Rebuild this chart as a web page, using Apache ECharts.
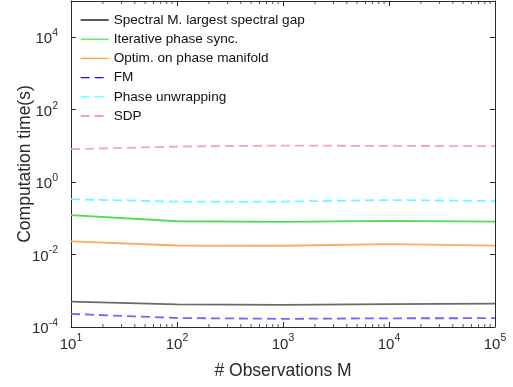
<!DOCTYPE html>
<html><head><meta charset="utf-8">
<script src="https://cdn.jsdelivr.net/npm/echarts@6/dist/echarts.min.js"></script>
<style>html,body{margin:0;padding:0;background:#fff}#c{width:513px;height:387px}#err{position:absolute;left:200px;top:5px;font:10px sans-serif;color:red;width:300px}</style>
</head><body><div id="c"></div><div id="err"></div>
<script>
window.onerror = function (m) { document.getElementById('err').textContent += m + ' | '; };
const xValues = [10, 100, 1000, 10000, 100000];
const seriesNames = ['Spectral M. largest spectral gap', 'Iterative phase sync.', 'Optim. on phase manifold', 'FM', 'Phase unwrapping', 'SDP'];
const spectral = [5.0e-4, 4.2e-4, 4.1e-4, 4.3e-4, 4.4e-4];
const iterative = [0.122, 0.083, 0.080, 0.085, 0.081];
const optim = [0.023, 0.0178, 0.0175, 0.0193, 0.0176];
const fm = [2.3e-4, 1.77e-4, 1.68e-4, 1.74e-4, 1.75e-4];
const unwrap = [0.337, 0.29, 0.29, 0.32, 0.30];
const sdp = [8.1, 9.6, 10.2, 10.0, 9.8];
const xMinorTicks = [20,30,40,50,60,70,80,90,200,300,400,500,600,700,800,900,2000,3000,4000,5000,6000,7000,8000,9000,20000,30000,40000,50000,60000,70000,80000,90000];

const plotColors = ['#6a6a6a', '#4ce04c', '#ffaa5c', '#6a6aff', '#70fafa', '#f2a8a8'];
const legendColors = ['#000000', '#44ee44', '#ffa040', '#1111ee', '#55ffff', '#ee8888'];
const dashed = [false, false, false, true, true, true];
const allData = [spectral, iterative, optim, fm, unwrap, sdp];
const AX = '#2a2a2a';

function supLabel(v) {
  const e = Math.round(Math.log10(v));
  return '{b|10}{s|' + e + '}';
}
const rich = {
  b: {fontSize: 15, color: AX, fontFamily: 'Liberation Sans', verticalAlign: 'bottom', lineHeight: 19},
  s: {fontSize: 10.5, color: AX, fontFamily: 'Liberation Sans', verticalAlign: 'top', lineHeight: 19}
};

const series = allData.map((d, i) => ({
  name: seriesNames[i],
  type: 'line',
  xAxisIndex: 0, yAxisIndex: 0,
  data: xValues.map((x, k) => [x, d[k]]),
  showSymbol: false, symbol: 'none',
  lineStyle: {color: plotColors[i], width: 1.8, type: dashed[i] ? [9, 5] : 'solid'},
  itemStyle: {color: plotColors[i]},
  z: 3
}));

// minor ticks at bottom (inside) and top (inside)
series.push({
  type: 'scatter', name: 'minorBottom', silent: true, clip: false,
  data: xMinorTicks.map(x => [x, 1e-4]),
  symbol: 'rect', symbolSize: [1, 3], symbolOffset: [0, -1.5],
  itemStyle: {color: AX}, z: 5
});
series.push({
  type: 'scatter', name: 'minorTop', silent: true, clip: false,
  data: xMinorTicks.map(x => [x, 1e5]),
  symbol: 'rect', symbolSize: [1, 3], symbolOffset: [0, 1.5],
  itemStyle: {color: AX}, z: 5
});

const option = {
  animation: false,
  backgroundColor: '#fff',
  grid: {left: 71, right: 18, top: 1, bottom: 60, containLabel: false, outerBoundsMode: 'none', show: false},
  legend: {
    show: true,
    orient: 'vertical', left: 80, top: 13, padding: 0,
    itemWidth: 28, itemHeight: 12, itemGap: 5.2,
    textStyle: {fontSize: 13.6, color: '#111', fontFamily: 'Liberation Sans'},
    itemStyle: {opacity: 0},
    lineStyle: {width: 1.3, opacity: 1},
    data: seriesNames.map((n, i) => ({name: n, itemStyle: {opacity: 0}, lineStyle: {color: legendColors[i], width: 1.3, opacity: 1}}))
  },
  xAxis: [{
    type: 'log', min: 10, max: 100000, interval: 1, logBase: 10,
    name: '# Observations M', nameLocation: 'middle', nameGap: 35, nameMoveOverlap: false,
    nameTextStyle: {fontSize: 17.5, color: AX, fontFamily: 'Liberation Sans'},
    axisLine: {show: true, onZero: false, lineStyle: {color: AX, width: 1}},
    axisTick: {show: true, inside: true, length: 5, lineStyle: {color: AX}},
    axisLabel: {formatter: supLabel, rich: rich, margin: 6},
    splitLine: {show: false}
  }, {
    type: 'log', min: 10, max: 100000, interval: 1, logBase: 10, position: 'top',
    axisLine: {show: true, onZero: false, lineStyle: {color: AX, width: 1}},
    axisTick: {show: true, inside: true, length: 5, lineStyle: {color: AX}},
    axisLabel: {show: false}, splitLine: {show: false}
  }],
  yAxis: [{
    type: 'log', min: 1e-4, max: 1e5, interval: 2, logBase: 10,
    name: 'Computation time(s)', nameLocation: 'middle', nameGap: 37, nameMoveOverlap: false,
    nameTextStyle: {fontSize: 17.5, color: AX, fontFamily: 'Liberation Sans'},
    axisLine: {show: true, onZero: false, lineStyle: {color: AX, width: 1}},
    axisTick: {show: true, inside: true, length: 5, lineStyle: {color: AX}},
    axisLabel: {formatter: function (v) { const e = Math.round(Math.log10(v)); return (e % 2 === 0 && e < 5) ? supLabel(v) : ''; }, rich: rich, margin: 13},
    splitLine: {show: false}
  }, {
    type: 'log', min: 1e-4, max: 1e5, interval: 2, logBase: 10, position: 'right',
    axisLine: {show: true, onZero: false, lineStyle: {color: AX, width: 1}},
    axisTick: {show: true, inside: true, length: 5, lineStyle: {color: AX}},
    axisLabel: {show: false}, splitLine: {show: false}
  }],
  series: series
};
try {
  const chart = echarts.init(document.getElementById('c'), null, {renderer: 'canvas'});
  chart.setOption(option);
} catch (e) { document.getElementById('err').textContent += 'E: ' + e.message; }
</script></body></html>
